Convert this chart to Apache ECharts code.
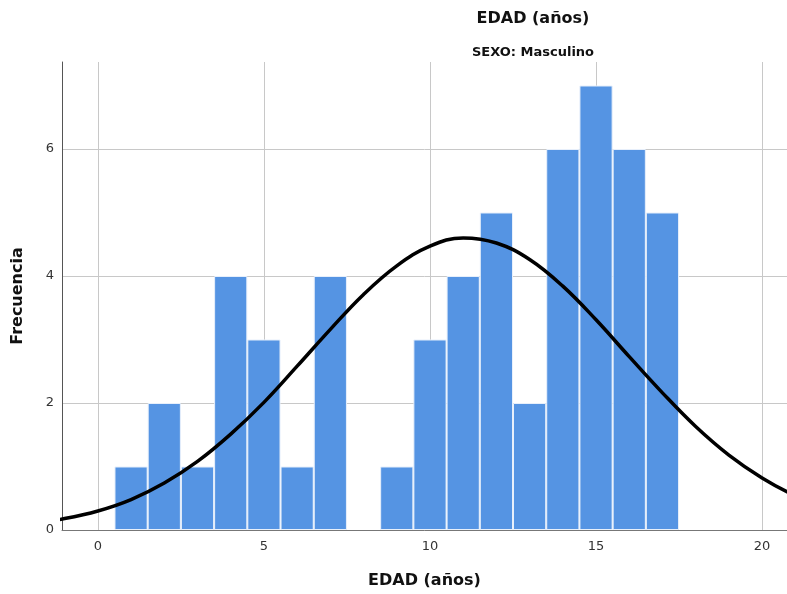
<!DOCTYPE html>
<html>
<head>
<meta charset="utf-8">
<script src="https://cdn.jsdelivr.net/npm/echarts@6/dist/echarts.min.js"></script>
<style>html,body{margin:0;padding:0;background:#fff}#c{width:787px;height:594px}</style>
</head>
<body>
<div id="c"></div>
<script>
// Histogram bins (centre of bin = age) and frequencies
const binCenters = [1, 2, 3, 4, 5, 6, 7, 9, 10, 11, 12, 13, 14, 15, 16, 17];
const frequencies = [1, 2, 1, 4, 3, 1, 4, 1, 3, 4, 5, 2, 6, 7, 6, 5];
// Normal curve
const curveX = [-2, -1, 0, 1, 2, 3, 4, 5, 6, 7, 8, 9, 10, 11, 12, 13, 14, 15, 16, 17, 18, 19, 20, 21, 22];
const curveY = [0.10, 0.18, 0.30, 0.48, 0.74, 1.08, 1.51, 2.01, 2.58, 3.16, 3.71, 4.16, 4.47, 4.60, 4.52, 4.26, 3.84, 3.31, 2.73, 2.16, 1.63, 1.18, 0.82, 0.54, 0.34];
const xTicks = [0, 5, 10, 15, 20];
const yTicks = [0, 2, 4, 6];

const chart = echarts.init(document.getElementById('c'));
const font = 'DejaVu Sans';
chart.setOption({
  animation: false,
  title: [
    {text: 'EDAD (años)', left: 528, top: 6, textAlign: 'center',
     textStyle: {fontFamily: font, fontWeight: 'bold', fontSize: 16, color: '#111'}},
    {text: 'SEXO: Masculino', left: 528, top: 41, textAlign: 'center',
     textStyle: {fontFamily: font, fontWeight: 'bold', fontSize: 13, color: '#111'}}
  ],
  grid: {left: 62, right: 0, top: 62, bottom: 64, containLabel: false, outerBoundsMode: 'none'},
  xAxis: {
    type: 'value', min: -1.08, max: 20.75,
    name: 'EDAD (años)', nameLocation: 'middle', nameGap: 43,
    nameTextStyle: {fontFamily: font, fontWeight: 'bold', fontSize: 16, color: '#111'},
    axisLine: {show: true, onZero: false, lineStyle: {color: '#777', width: 1}},
    axisTick: {show: false, customValues: xTicks},
    axisLabel: {customValues: xTicks, fontFamily: font, fontSize: 13, color: '#333', margin: 10},
    splitLine: {show: true, lineStyle: {color: '#c8c8c8', width: 1}}
  },
  yAxis: {
    type: 'value', min: 0, max: 7.37,
    name: 'Frecuencia', nameLocation: 'middle', nameGap: 36, nameRotate: 90,
    nameTextStyle: {fontFamily: font, fontWeight: 'bold', fontSize: 16, color: '#111'},
    axisLine: {show: true, onZero: false, lineStyle: {color: '#555', width: 1}},
    axisTick: {show: false, customValues: yTicks},
    axisLabel: {customValues: yTicks, fontFamily: font, fontSize: 13, color: '#333', margin: 8},
    splitLine: {show: true, lineStyle: {color: '#c8c8c8', width: 1}}
  },
  series: [
    {
      type: 'bar',
      data: binCenters.map((x, i) => [x, frequencies[i]]),
      barWidth: 33.2,
      itemStyle: {color: '#5594e3', borderColor: '#e8f0fb', borderWidth: 1}
    },
    {
      type: 'line',
      data: curveX.map((x, i) => [x, curveY[i]]),
      smooth: 0.4, showSymbol: false, clip: true,
      lineStyle: {color: '#000', width: 3.5}
    }
  ]
});
</script>
</body>
</html>
